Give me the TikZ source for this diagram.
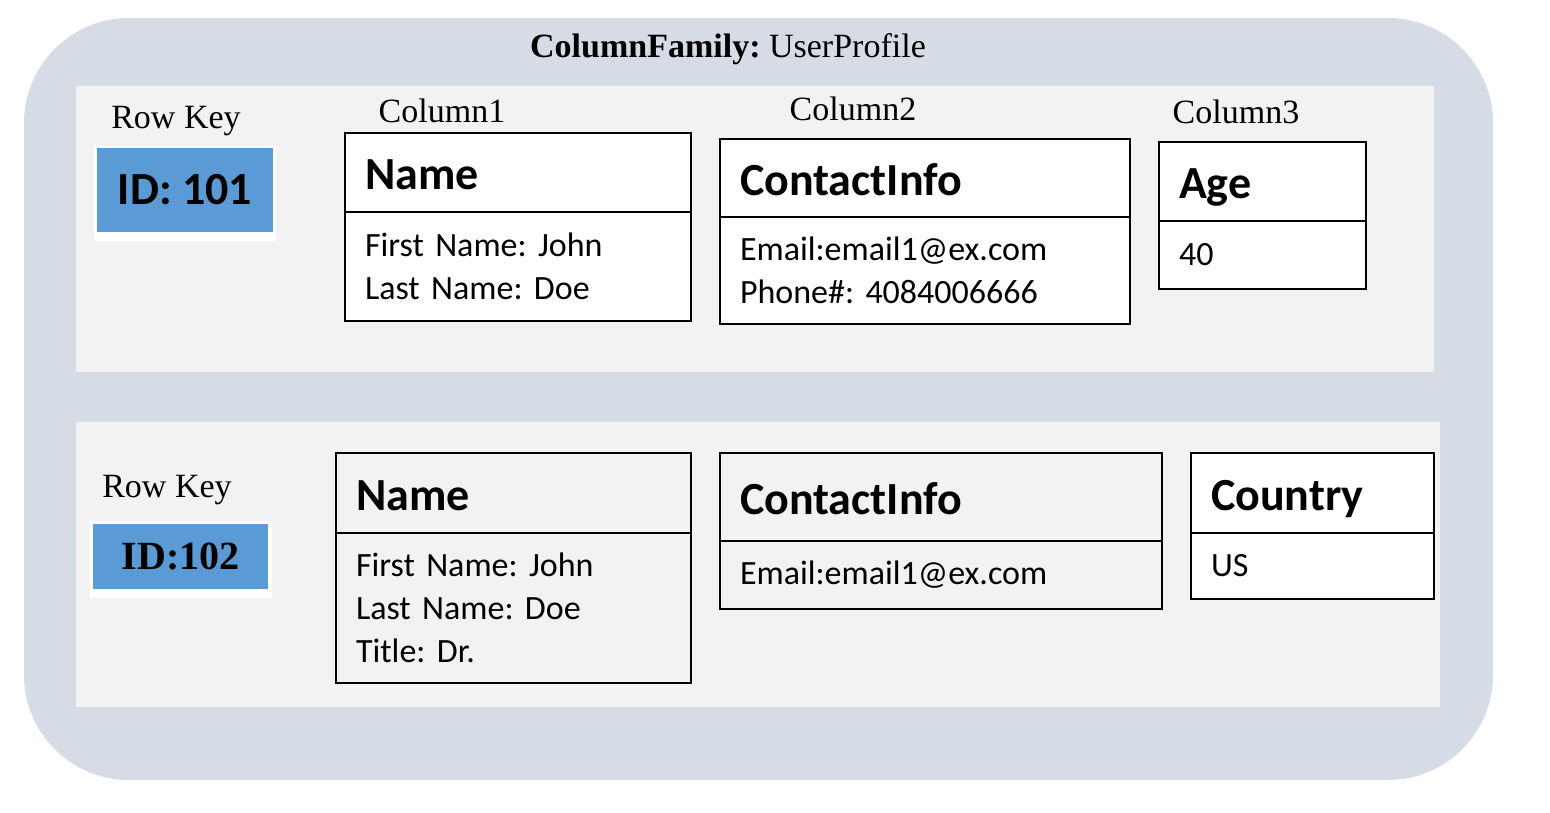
\documentclass[tikz,border=0pt]{standalone}
\usepackage{fontspec}
\newfontfamily\lblfont{Liberation Serif}
\newfontfamily\boxfont{Carlito}
\usetikzlibrary{positioning}
\frenchspacing

\definecolor{famcolor}{HTML}{D6DCE5}
\definecolor{rowcolor}{HTML}{F2F2F2}
\definecolor{keycolor}{HTML}{5B9BD5}

\tikzset{
  lbl/.style={font=\lblfont\fontsize{34}{40}\selectfont, inner sep=0pt},
  hdr/.style={draw, line width=2.3pt, outer sep=0pt, anchor=north west, align=left, inner xsep=20pt, inner ysep=0pt,
    text height=34pt, text depth=0pt, font=\boxfont\bfseries\fontsize{46}{52}\selectfont},
  cell/.style={draw, line width=2.3pt, outer sep=0pt, anchor=north west, align=left, inner xsep=20pt, inner ysep=0pt,
    font=\boxfont\fontsize{34}{43}\selectfont},
  keybox/.style={fill=keycolor, inner sep=0pt},
}

\begin{document}
\begin{tikzpicture}[x=1pt, y=-1pt]
                \useasboundingbox (0,0) rectangle (1550,812);
                \fill[famcolor, rounded corners=105pt] (24,18) rectangle (1493,780);
                \node[lbl] (family) at (728,49) {{\bfseries ColumnFamily:} UserProfile};

                % row 101
                \fill[rowcolor] (76,86) rectangle (1434,372);
                \node[lbl] (rowkey1) at (176,121) {Row Key};
                \fill[white] (94,146) rectangle (276,241);
                \node[keybox, minimum width=176pt, minimum height=84pt, font=\boxfont\bfseries\fontsize{46}{52}\selectfont] (id1) at (185,190) {ID: 101};

                \node[lbl] (col1) at (442,111) {Column1};
                \node[lbl] (col2) at (853,109) {Column2};
                \node[lbl] (col3) at (1236,112) {Column3};

                \node[hdr, fill=white, text width=306pt, minimum height=79pt] (name1) at (345,133) {Name};
                \node[cell, fill=white, text width=306pt, minimum height=109pt] (name1v) at (name1.south west) {First Name: John\\Last Name: Doe};
                \node[hdr, fill=white, text width=370pt, minimum height=78pt] (contact1) at (720,139) {ContactInfo};
                \node[cell, fill=white, text width=370pt, minimum height=107pt] (contact1v) at (contact1.south west) {Email:email1@ex.com\\Phone\#: 4084006666};
                \node[hdr, fill=white, text width=167pt, minimum height=79pt] (age1) at (1159,142) {Age};
                \node[cell, fill=white, text width=167pt, minimum height=68pt] (age1v) at (age1.south west) {40};

                % row 102
                \fill[rowcolor] (76,422) rectangle (1440,707);
                \node[lbl] (rowkey2) at (167,490) {Row Key};
                \fill[white] (90,521) rectangle (272,598);
                \node[keybox, minimum width=175pt, minimum height=65pt, font=\lblfont\bfseries\fontsize{40}{46}\selectfont] (id2) at (180.5,556.5) {ID:102};

                \node[hdr, fill=rowcolor, text width=315pt, minimum height=80pt] (name2) at (336,453) {Name};
                \node[cell, fill=rowcolor, text width=315pt, minimum height=150pt] (name2v) at (name2.south west) {First Name: John\\Last Name: Doe\\Title: Dr.};
                \node[hdr, fill=rowcolor, text width=402pt, minimum height=88pt] (contact2) at (720,453) {ContactInfo};
                \node[cell, fill=rowcolor, text width=402pt, minimum height=68pt] (contact2v) at (contact2.south west) {Email:email1@ex.com};
                \node[hdr, fill=white, text width=203pt, minimum height=80pt] (country2) at (1191,453) {Country};
                \node[cell, fill=white, text width=203pt, minimum height=66pt] (country2v) at (country2.south west) {US};
\end{tikzpicture}
\end{document}
